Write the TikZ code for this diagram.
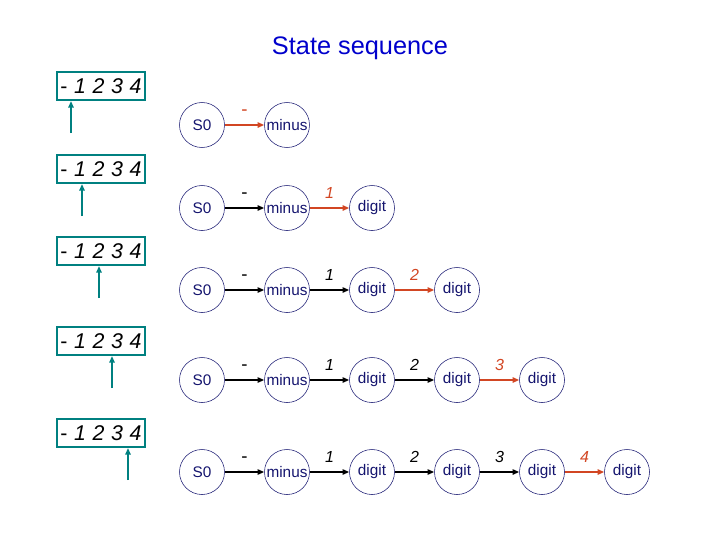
\documentclass[tikz,border=0pt]{standalone}
\usepackage{fontspec}
\setmainfont{Liberation Sans}
\usetikzlibrary{arrows.meta}
\definecolor{teal2}{RGB}{0,128,128}
\definecolor{navy2}{RGB}{20,20,110}
\definecolor{red2}{RGB}{210,70,35}
\begin{document}
\begin{tikzpicture}[x=0.75pt,y=-0.75pt,
  st/.style={circle,draw=navy2,text=navy2,minimum size=45*0.75pt,inner sep=0pt,font=\fontsize{11.5}{11.5}\selectfont},
  tr/.style={draw=black,line width=1.2pt,-{Triangle[length=5pt,width=4pt]}},
  trn/.style={draw=red2,line width=1.5pt,-{Triangle[length=5pt,width=4pt]}},
  lb/.style={above=3pt,font=\fontsize{12}{12}\selectfont\itshape},
  box/.style={draw=teal2,line width=0.8pt,minimum width=88*0.75pt,minimum height=28*0.75pt,inner sep=0pt,font=\fontsize{16}{16}\selectfont},
  ptr/.style={draw=teal2,line width=1.5pt,-{Triangle[length=5pt,width=4pt]}}]
\useasboundingbox (0,0) rectangle (720,540);
\node[text=blue!80!black,font=\fontsize{19}{19}\selectfont] (title) at (360,48) {State sequence};
\def\xs{{202,287,372,457,542,627}}
\foreach \r/\y/\by/\px [count=\n] in {1/125/86/71,2/208/169/82,3/290/251/99,4/380/341/112,5/472/433/128}{
  \node[box] (b\n) at (101,\by) {-\hspace{5pt}\textit{1\hspace{5pt}2\hspace{5pt}3\hspace{5pt}4}};
  \coordinate (p\n) at (\px,\by+47);
  \draw[ptr] (p\n) -- (\px,\by+15);
  \node[st] (s\n-0) at (202,\y) {S0};
  \node[st] (s\n-1) at (287,\y) {minus};
  \foreach \k in {2,...,5}{
    \pgfmathtruncatemacro\kk{\k}
    \ifnum\kk>\r\else
      \pgfmathsetmacro\xx{\xs[\k]}
      \node[st] (s\n-\k) at (\xx,\y) {digit};
    \fi}
  \foreach \k in {1,...,5}{
    \ifnum\k>\r\else
      \pgfmathtruncatemacro\pk{\k-1}
      \pgfmathtruncatemacro\lab{\k-1}
      \ifnum\k=\r \def\sty{trn}\def\col{red2}\else\def\sty{tr}\def\col{black}\fi
      \ifnum\k=1
        \draw[\sty] (s\n-\pk) -- node[lb,text=\col,font=\fontsize{14}{14}\selectfont] {-} (s\n-\k);
      \else
        \draw[\sty] (s\n-\pk) -- node[lb,text=\col] {\lab} (s\n-\k);
      \fi
    \fi}
}
\end{tikzpicture}
\end{document}
